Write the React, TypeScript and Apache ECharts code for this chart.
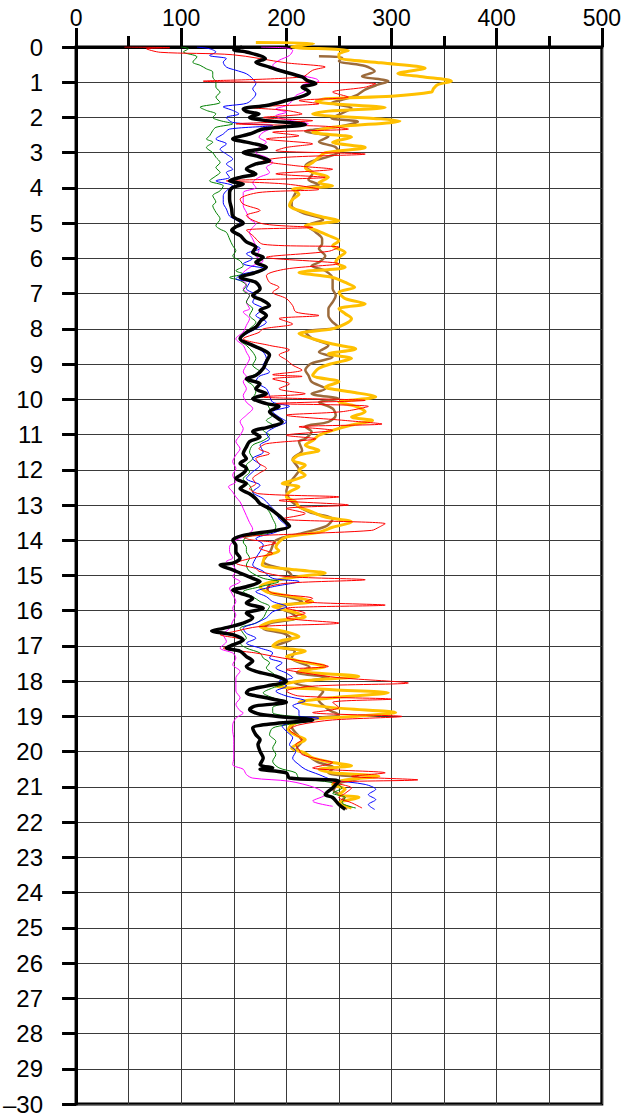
import React, { useEffect, useRef } from "react";
import * as echarts from "echarts";

// [value, depth]
const blackSeries: number[][] = [
  [158,0],[150,0.08],[163,0.15],[180,0.33],[171,0.43],[184,0.57],[193,0.66],[215,0.85],[220,0.95],[228,1.04],[215,1.14],[222,1.28],[217,1.38],[200,1.52],[181,1.66],[159,1.76],[162,1.83],[174,1.9],[165,2.0],[181,2.09],[218,2.2],[178,2.33],[165,2.47],[149,2.61],[162,2.7],[181,2.85],[159,3.0],[171,3.09],[184,3.23],[171,3.32],[162,3.47],[171,3.6],[156,3.7],[146,3.8],[159,3.89],[149,3.99],[146,4.13],[146,4.32],[148,4.6],[149,4.8],[159,5.0],[152,5.1],[148,5.2],[156,5.35],[162,5.53],[171,5.68],[168,5.83],[178,5.97],[171,6.11],[181,6.25],[171,6.4],[156,6.54],[171,6.68],[175,6.86],[168,7.05],[178,7.2],[184,7.34],[175,7.47],[181,7.62],[176,7.76],[171,7.95],[162,8.1],[156,8.28],[168,8.47],[178,8.6],[184,8.74],[181,8.93],[178,9.12],[171,9.32],[162,9.42],[175,9.56],[171,9.7],[181,9.84],[168,9.98],[181,10.12],[193,10.2],[184,10.35],[190,10.5],[196,10.64],[184,10.78],[168,10.92],[175,11.07],[165,11.2],[162,11.35],[159,11.54],[162,11.68],[156,11.82],[162,11.96],[159,12.1],[152,12.25],[162,12.39],[156,12.53],[165,12.68],[171,12.82],[175,12.96],[184,13.1],[193,13.3],[200,13.5],[203,13.6],[190,13.72],[159,13.86],[149,14.0],[152,14.15],[152,14.32],[156,14.5],[149,14.65],[137,14.7],[149,14.84],[156,14.93],[168,15.08],[175,15.17],[162,15.32],[149,15.42],[156,15.5],[168,15.65],[162,15.78],[178,15.93],[162,16.07],[168,16.2],[159,16.35],[140,16.5],[129,16.57],[149,16.68],[159,16.83],[149,16.97],[143,17.06],[156,17.15],[162,17.3],[168,17.43],[162,17.58],[171,17.72],[190,17.86],[200,18.0],[181,18.14],[165,18.24],[162,18.33],[181,18.47],[200,18.6],[171,18.7],[165,18.8],[175,18.94],[200,19.02],[225,19.1],[190,19.2],[168,19.33],[171,19.52],[175,19.66],[173,19.8],[175,19.99],[178,20.18],[175,20.37],[187,20.46],[175,20.5],[200,20.6],[203,20.75],[250,20.84],[244,21.03],[237,21.22],[244,21.3],[250,21.5],[256,21.64]
];

const blueSeries: number[][] = [
  [115,0],[127,0.05],[133,0.14],[127,0.24],[143,0.33],[140,0.43],[143,0.57],[152,0.66],[162,0.76],[168,0.9],[171,1.04],[168,1.19],[171,1.33],[168,1.47],[162,1.6],[140,1.7],[149,1.8],[155,1.9],[143,2.0],[149,2.14],[187,2.23],[146,2.33],[140,2.47],[133,2.61],[143,2.75],[137,2.9],[143,3.04],[149,3.18],[143,3.32],[149,3.47],[143,3.56],[146,3.7],[133,3.8],[149,3.94],[143,4.08],[140,4.22],[140,4.42],[143,4.6],[146,4.8],[156,5.0],[149,5.17],[156,5.35],[162,5.53],[175,5.72],[162,5.87],[168,6.0],[159,6.15],[181,6.3],[159,6.44],[152,6.58],[165,6.68],[162,6.86],[171,7.05],[168,7.24],[178,7.43],[171,7.62],[181,7.81],[171,8.0],[162,8.14],[156,8.28],[168,8.47],[178,8.66],[181,8.84],[178,9.03],[184,9.22],[174,9.35],[171,9.5],[181,9.7],[184,9.89],[187,10.08],[203,10.2],[187,10.35],[193,10.5],[200,10.64],[190,10.78],[181,10.97],[184,11.12],[175,11.3],[178,11.5],[168,11.68],[175,11.87],[168,12.06],[162,12.25],[175,12.44],[168,12.63],[178,12.82],[184,13.0],[190,13.2],[193,13.39],[200,13.6],[190,13.77],[171,13.96],[178,14.13],[175,14.32],[171,14.5],[168,14.7],[178,14.88],[187,15.08],[212,15.17],[187,15.32],[171,15.46],[181,15.6],[187,15.74],[200,15.88],[187,16.03],[181,16.2],[171,16.35],[159,16.5],[162,16.64],[171,16.78],[162,16.92],[175,17.06],[187,17.2],[184,17.34],[196,17.48],[190,17.62],[200,17.77],[206,17.9],[193,18.0],[200,18.14],[190,18.28],[200,18.42],[218,18.56],[206,18.7],[212,18.84],[212,18.98],[231,19.05],[212,19.14],[196,19.28],[200,19.42],[206,19.61],[203,19.8],[209,19.99],[206,20.18],[212,20.37],[218,20.5],[231,20.65],[244,20.8],[275,20.93],[285,21.07],[278,21.22],[285,21.36],[278,21.5],[284,21.64]
];

const greenSeries: number[][] = [
  [100,0],[107,0.05],[102,0.14],[115,0.28],[111,0.43],[118,0.52],[124,0.62],[130,0.71],[130,0.85],[133,1.0],[133,1.14],[137,1.28],[133,1.42],[137,1.57],[118,1.71],[124,1.8],[133,1.9],[130,2.0],[137,2.09],[149,2.18],[133,2.28],[130,2.37],[127,2.52],[124,2.61],[130,2.7],[124,2.85],[130,3.0],[133,3.13],[137,3.28],[133,3.42],[137,3.56],[133,3.66],[127,3.8],[140,3.94],[137,4.08],[130,4.22],[133,4.4],[130,4.5],[133,4.69],[137,4.88],[133,5.07],[137,5.17],[143,5.26],[146,5.45],[149,5.64],[152,5.78],[149,5.93],[156,6.07],[159,6.21],[152,6.35],[159,6.44],[146,6.54],[156,6.63],[162,6.77],[159,6.91],[165,7.05],[162,7.24],[168,7.43],[165,7.62],[171,7.81],[165,8.0],[159,8.19],[156,8.33],[162,8.47],[168,8.66],[171,8.84],[168,9.03],[175,9.22],[168,9.32],[162,9.46],[168,9.6],[171,9.79],[168,9.98],[181,10.12],[184,10.26],[187,10.45],[181,10.6],[187,10.73],[178,10.88],[184,11.02],[178,11.17],[168,11.3],[165,11.5],[168,11.68],[162,11.87],[165,12.06],[159,12.25],[165,12.44],[168,12.63],[171,12.82],[178,13.0],[184,13.2],[187,13.39],[190,13.6],[187,13.77],[162,13.91],[159,14.05],[162,14.2],[162,14.32],[165,14.5],[162,14.7],[165,14.88],[178,15.08],[193,15.17],[175,15.32],[159,15.46],[168,15.6],[175,15.74],[184,15.88],[181,16.03],[178,16.2],[171,16.35],[156,16.5],[159,16.64],[162,16.78],[156,16.92],[162,17.06],[175,17.2],[178,17.34],[184,17.48],[181,17.62],[187,17.77],[193,17.9],[200,18.05],[187,18.19],[178,18.33],[187,18.47],[200,18.6],[187,18.75],[187,18.89],[200,18.98],[218,19.02],[225,19.1],[200,19.24],[187,19.33],[184,19.52],[190,19.71],[187,19.9],[190,20.08],[187,20.27],[193,20.46],[209,20.6],[212,20.75],[244,20.88],[253,21.03],[244,21.18],[256,21.3],[253,21.45],[266,21.6]
];

const magentaSeries: number[][] = [
  [176,0],[200,0.03],[206,0.1],[203,0.24],[193,0.38],[187,0.52],[196,0.66],[212,0.8],[228,0.9],[231,0.97],[215,1.09],[218,1.23],[209,1.38],[206,1.52],[200,1.66],[190,1.76],[200,1.85],[190,1.95],[196,2.04],[221,2.18],[190,2.28],[178,2.42],[174,2.56],[181,2.7],[174,2.85],[171,3.0],[181,3.13],[187,3.28],[181,3.42],[184,3.56],[174,3.7],[168,3.85],[171,3.99],[159,4.13],[159,4.32],[159,4.5],[162,4.69],[165,4.88],[171,5.02],[168,5.12],[165,5.26],[168,5.45],[171,5.64],[174,5.78],[171,5.93],[178,6.07],[168,6.21],[159,6.4],[156,6.58],[162,6.73],[159,6.86],[165,7.05],[162,7.24],[165,7.43],[159,7.52],[165,7.71],[162,7.9],[159,8.09],[152,8.28],[159,8.47],[162,8.66],[165,8.84],[162,9.03],[159,9.22],[162,9.36],[159,9.5],[162,9.7],[159,9.89],[162,10.08],[168,10.26],[162,10.45],[156,10.64],[159,10.83],[156,11.02],[152,11.2],[156,11.4],[152,11.58],[149,11.77],[152,11.96],[149,12.15],[152,12.34],[145,12.48],[149,12.63],[152,12.77],[156,12.91],[159,13.1],[162,13.3],[165,13.5],[168,13.68],[162,13.86],[149,14.05],[146,14.2],[146,14.32],[149,14.5],[143,14.6],[149,14.7],[152,14.88],[149,15.03],[156,15.17],[146,15.36],[149,15.55],[152,15.74],[149,15.93],[152,16.12],[149,16.3],[146,16.5],[140,16.68],[143,16.87],[137,17.06],[149,17.2],[152,17.34],[149,17.53],[156,17.72],[152,17.9],[152,18.1],[152,18.28],[156,18.47],[152,18.65],[156,18.84],[159,18.9],[152,19.05],[149,19.24],[149,19.42],[150,19.61],[150,19.8],[150,19.99],[150,20.18],[149,20.37],[159,20.5],[162,20.65],[168,20.75],[203,20.84],[228,21.03],[237,21.22],[225,21.4],[244,21.55]
];

const redSeries: number[][] = [
  [46,0],[89,0.02],[67,0.05],[80,0.15],[149,0.22],[200,0.45],[237,0.57],[225,0.66],[215,0.85],[121,0.97],[285,1.04],[275,1.14],[244,1.28],[259,1.42],[212,1.52],[231,1.61],[162,1.71],[200,1.8],[215,1.9],[178,2.0],[225,2.09],[152,2.18],[237,2.25],[259,2.33],[187,2.42],[212,2.52],[181,2.61],[225,2.75],[200,2.85],[190,2.94],[275,3.04],[200,3.13],[178,3.23],[209,3.37],[244,3.47],[190,3.6],[237,3.7],[143,3.8],[200,3.89],[231,4.04],[174,4.13],[156,4.32],[159,4.46],[175,4.64],[162,4.78],[178,5.02],[225,5.12],[162,5.2],[168,5.35],[178,5.6],[250,5.68],[240,5.8],[181,5.97],[250,6.15],[200,6.3],[181,6.49],[184,6.68],[193,6.82],[187,6.96],[200,7.14],[206,7.34],[209,7.52],[231,7.62],[193,7.71],[206,7.86],[178,8.0],[174,8.1],[159,8.28],[184,8.47],[203,8.6],[193,8.74],[200,8.88],[206,9.03],[215,9.17],[187,9.3],[215,9.35],[187,9.42],[203,9.56],[193,9.7],[218,9.84],[174,9.93],[275,10.03],[190,10.12],[278,10.2],[253,10.35],[200,10.45],[256,10.6],[291,10.7],[212,10.78],[244,10.88],[200,11.02],[228,11.12],[181,11.26],[174,11.4],[184,11.54],[171,11.68],[174,11.82],[181,11.96],[174,12.1],[168,12.25],[171,12.39],[165,12.53],[174,12.68],[250,12.77],[193,12.87],[259,13.0],[200,13.1],[218,13.24],[196,13.39],[294,13.53],[288,13.63],[281,13.72],[212,13.82],[159,13.91],[165,13.98],[190,14.08],[174,14.22],[187,14.37],[168,14.5],[152,14.65],[171,14.8],[174,14.88],[200,15.03],[275,15.12],[200,15.22],[181,15.36],[187,15.5],[225,15.65],[218,15.74],[294,15.84],[200,15.93],[218,16.07],[200,16.2],[250,16.35],[174,16.45],[149,16.6],[137,16.68],[159,16.83],[149,16.97],[140,17.06],[171,17.2],[196,17.34],[225,17.48],[240,17.58],[200,17.67],[218,17.77],[250,17.9],[316,18.05],[225,18.14],[200,18.28],[212,18.42],[300,18.51],[244,18.6],[250,18.75],[225,18.89],[310,19.0],[244,19.1],[212,19.24],[203,19.38],[209,19.52],[215,19.66],[209,19.8],[212,19.94],[215,20.08],[231,20.22],[244,20.31],[225,20.46],[294,20.6],[262,20.7],[325,20.8],[244,20.88],[262,21.03],[256,21.18],[250,21.3],[262,21.45],[272,21.6]
];

const orangeSeries: number[][] = [
  [171,-0.13],[226,-0.1],[205,0.0],[259,0.1],[250,0.2],[250,0.3],[290,0.45],[332,0.6],[306,0.75],[331,0.85],[357,0.97],[344,1.07],[340,1.18],[338,1.28],[300,1.4],[237,1.47],[228,1.55],[294,1.72],[240,1.82],[225,1.9],[290,2.04],[308,2.1],[244,2.28],[225,2.42],[262,2.56],[244,2.7],[275,2.85],[237,3.0],[231,3.13],[225,3.28],[218,3.42],[225,3.56],[240,3.7],[231,3.85],[244,3.94],[206,4.04],[212,4.18],[206,4.32],[203,4.5],[218,4.69],[237,4.84],[250,4.93],[218,5.07],[228,5.2],[240,5.35],[250,5.5],[244,5.64],[256,5.83],[250,5.97],[247,6.11],[256,6.25],[212,6.4],[244,6.54],[256,6.68],[265,6.82],[250,6.96],[256,7.14],[275,7.29],[250,7.43],[256,7.57],[262,7.71],[256,7.86],[244,8.0],[212,8.14],[225,8.28],[244,8.43],[266,8.57],[240,8.71],[262,8.84],[244,8.98],[231,9.12],[225,9.32],[250,9.5],[237,9.65],[262,9.79],[285,9.93],[250,10.08],[266,10.2],[275,10.35],[262,10.5],[282,10.6],[262,10.73],[244,10.88],[231,11.02],[225,11.17],[218,11.3],[231,11.45],[212,11.58],[206,11.73],[218,11.87],[212,12.01],[218,12.15],[206,12.3],[196,12.39],[212,12.48],[203,12.63],[200,12.77],[209,12.91],[212,13.05],[225,13.2],[237,13.34],[262,13.48],[244,13.63],[231,13.77],[200,13.91],[193,14.05],[190,14.2],[193,14.3],[180,14.45],[178,14.6],[177,14.7],[209,14.84],[237,14.93],[212,15.03],[187,15.17],[175,15.32],[181,15.46],[206,15.6],[225,15.74],[187,15.88],[206,16.03],[218,16.17],[187,16.3],[175,16.45],[200,16.6],[212,16.73],[193,16.87],[187,17.0],[218,17.15],[200,17.3],[212,17.43],[237,17.58],[212,17.72],[269,17.86],[212,18.0],[190,18.14],[244,18.24],[297,18.33],[244,18.47],[212,18.6],[244,18.75],[304,18.89],[262,19.0],[218,19.1],[205,19.24],[202,19.38],[205,19.47],[212,19.57],[218,19.66],[212,19.76],[205,19.9],[218,20.04],[225,20.18],[244,20.31],[262,20.4],[231,20.5],[244,20.6],[288,20.7],[256,20.8],[244,20.93],[256,21.07],[250,21.22],[269,21.3],[250,21.45],[262,21.6]
];

const brownSeries: number[][] = [
  [231,0.26],[253,0.3],[250,0.4],[275,0.54],[284,0.69],[272,0.83],[297,0.97],[287,1.07],[275,1.21],[268,1.35],[259,1.45],[243,1.59],[262,1.73],[253,1.88],[243,2.02],[268,2.12],[250,2.26],[218,2.4],[240,2.54],[231,2.69],[246,2.83],[250,2.97],[240,3.11],[224,3.25],[218,3.39],[225,3.58],[221,3.77],[231,3.9],[212,4.04],[206,4.3],[205,4.5],[215,4.7],[235,4.9],[220,5.07],[228,5.26],[234,5.45],[234,5.59],[231,5.72],[237,5.93],[231,6.11],[224,6.21],[237,6.35],[244,6.58],[244,6.86],[247,7.05],[244,7.24],[240,7.43],[240,7.62],[244,7.81],[250,7.95],[218,8.09],[225,8.28],[240,8.47],[231,8.66],[244,8.8],[224,8.98],[218,9.17],[221,9.32],[224,9.5],[237,9.7],[224,9.84],[250,9.98],[231,10.08],[244,10.26],[247,10.45],[240,10.64],[218,10.78],[224,10.92],[218,11.12],[212,11.2],[215,11.45],[206,11.7],[212,12.0],[205,12.3],[200,12.6],[205,12.9],[222,13.2],[244,13.4],[238,13.6],[215,13.8],[190,14.0],[185,14.3],[178,14.6],[200,14.85],[205,15.0],[185,15.2],[182,15.45],[200,15.6],[215,15.74],[192,15.9],[205,16.07],[210,16.2],[185,16.35],[178,16.5],[198,16.65],[205,16.8],[190,17.0],[208,17.15],[205,17.35],[222,17.6],[210,17.75],[240,17.9],[208,18.05],[235,18.3],[230,18.5],[240,18.8],[250,18.95],[215,19.1],[205,19.3],[210,19.5],[215,19.7],[210,19.9],[220,20.1],[230,20.3],[245,20.45],[240,20.6],[270,20.75],[250,20.9],[245,21.1],[255,21.3],[250,21.5],[258,21.62]
];

const xMin = 0;
const xMax = 500;
const yMin = 0;
const yMax = 30;

const FONT = "'Liberation Sans', Arial, sans-serif";

function mkLine(name: string, data: number[][], color: string, width: number, extra: any = {}) {
  return {
    name,
    type: "line",
    data,
    showSymbol: false,
    symbol: "none",
    smooth: 0.3,
    lineStyle: { color, width },
    itemStyle: { color },
    ...extra,
  };
}

export default function App() {
  const ref = useRef<HTMLDivElement>(null);
  useEffect(() => {
    document.body.style.margin = "0";
    const chart = echarts.init(ref.current as HTMLDivElement, null, { renderer: "svg" });
    const gridLine = { lineStyle: { color: "#3a3a3a", width: 1 } };
    chart.setOption({
      animation: false,
      backgroundColor: "#ffffff",
      grid: {
        left: 76,
        top: 47,
        right: 19,
        bottom: 9,
        show: true,
        borderColor: "#000",
        borderWidth: 3,
        backgroundColor: "transparent",
      },
      xAxis: {
        type: "value",
        position: "top",
        min: xMin,
        max: xMax,
        interval: 100,
        axisLine: { show: true, lineStyle: { color: "#000", width: 3 } },
        axisTick: { show: true, length: 19, lineStyle: { color: "#000", width: 3 } },
        minorTick: { show: true, splitNumber: 2, length: 11, lineStyle: { color: "#000", width: 3 } },
        splitLine: { show: true, ...gridLine },
        minorSplitLine: { show: true, ...gridLine },
        axisLabel: { fontSize: 23, color: "#000", fontFamily: FONT, margin: 18 },
      },
      yAxis: {
        type: "value",
        inverse: true,
        min: yMin,
        max: yMax,
        interval: 1,
        axisLine: { show: true, lineStyle: { color: "#000", width: 3 } },
        axisTick: { show: true, length: 14, lineStyle: { color: "#000", width: 3 } },
        splitLine: { show: true, ...gridLine },
        axisLabel: {
          fontSize: 24,
          color: "#000",
          fontFamily: FONT,
          margin: 33,
          formatter: (v: number) => (v === 30 ? "\u201330" : String(v)),
        },
      },
      series: [
        mkLine("brown", brownSeries, "#9C6B3C", 2.5),
        mkLine("orange", orangeSeries, "#FFC000", 3, { clip: false }),
        mkLine("magenta", magentaSeries, "#FF00FF", 1),
        mkLine("green", greenSeries, "#008000", 1),
        mkLine("blue", blueSeries, "#0000FF", 1),
        mkLine("red", redSeries, "#FF0000", 1),
        mkLine("black", blackSeries, "#000000", 3.5),
      ],
    });
    return () => chart.dispose();
  }, []);
  return <div ref={ref} style={{ width: 624, height: 1116 }} />;
}
